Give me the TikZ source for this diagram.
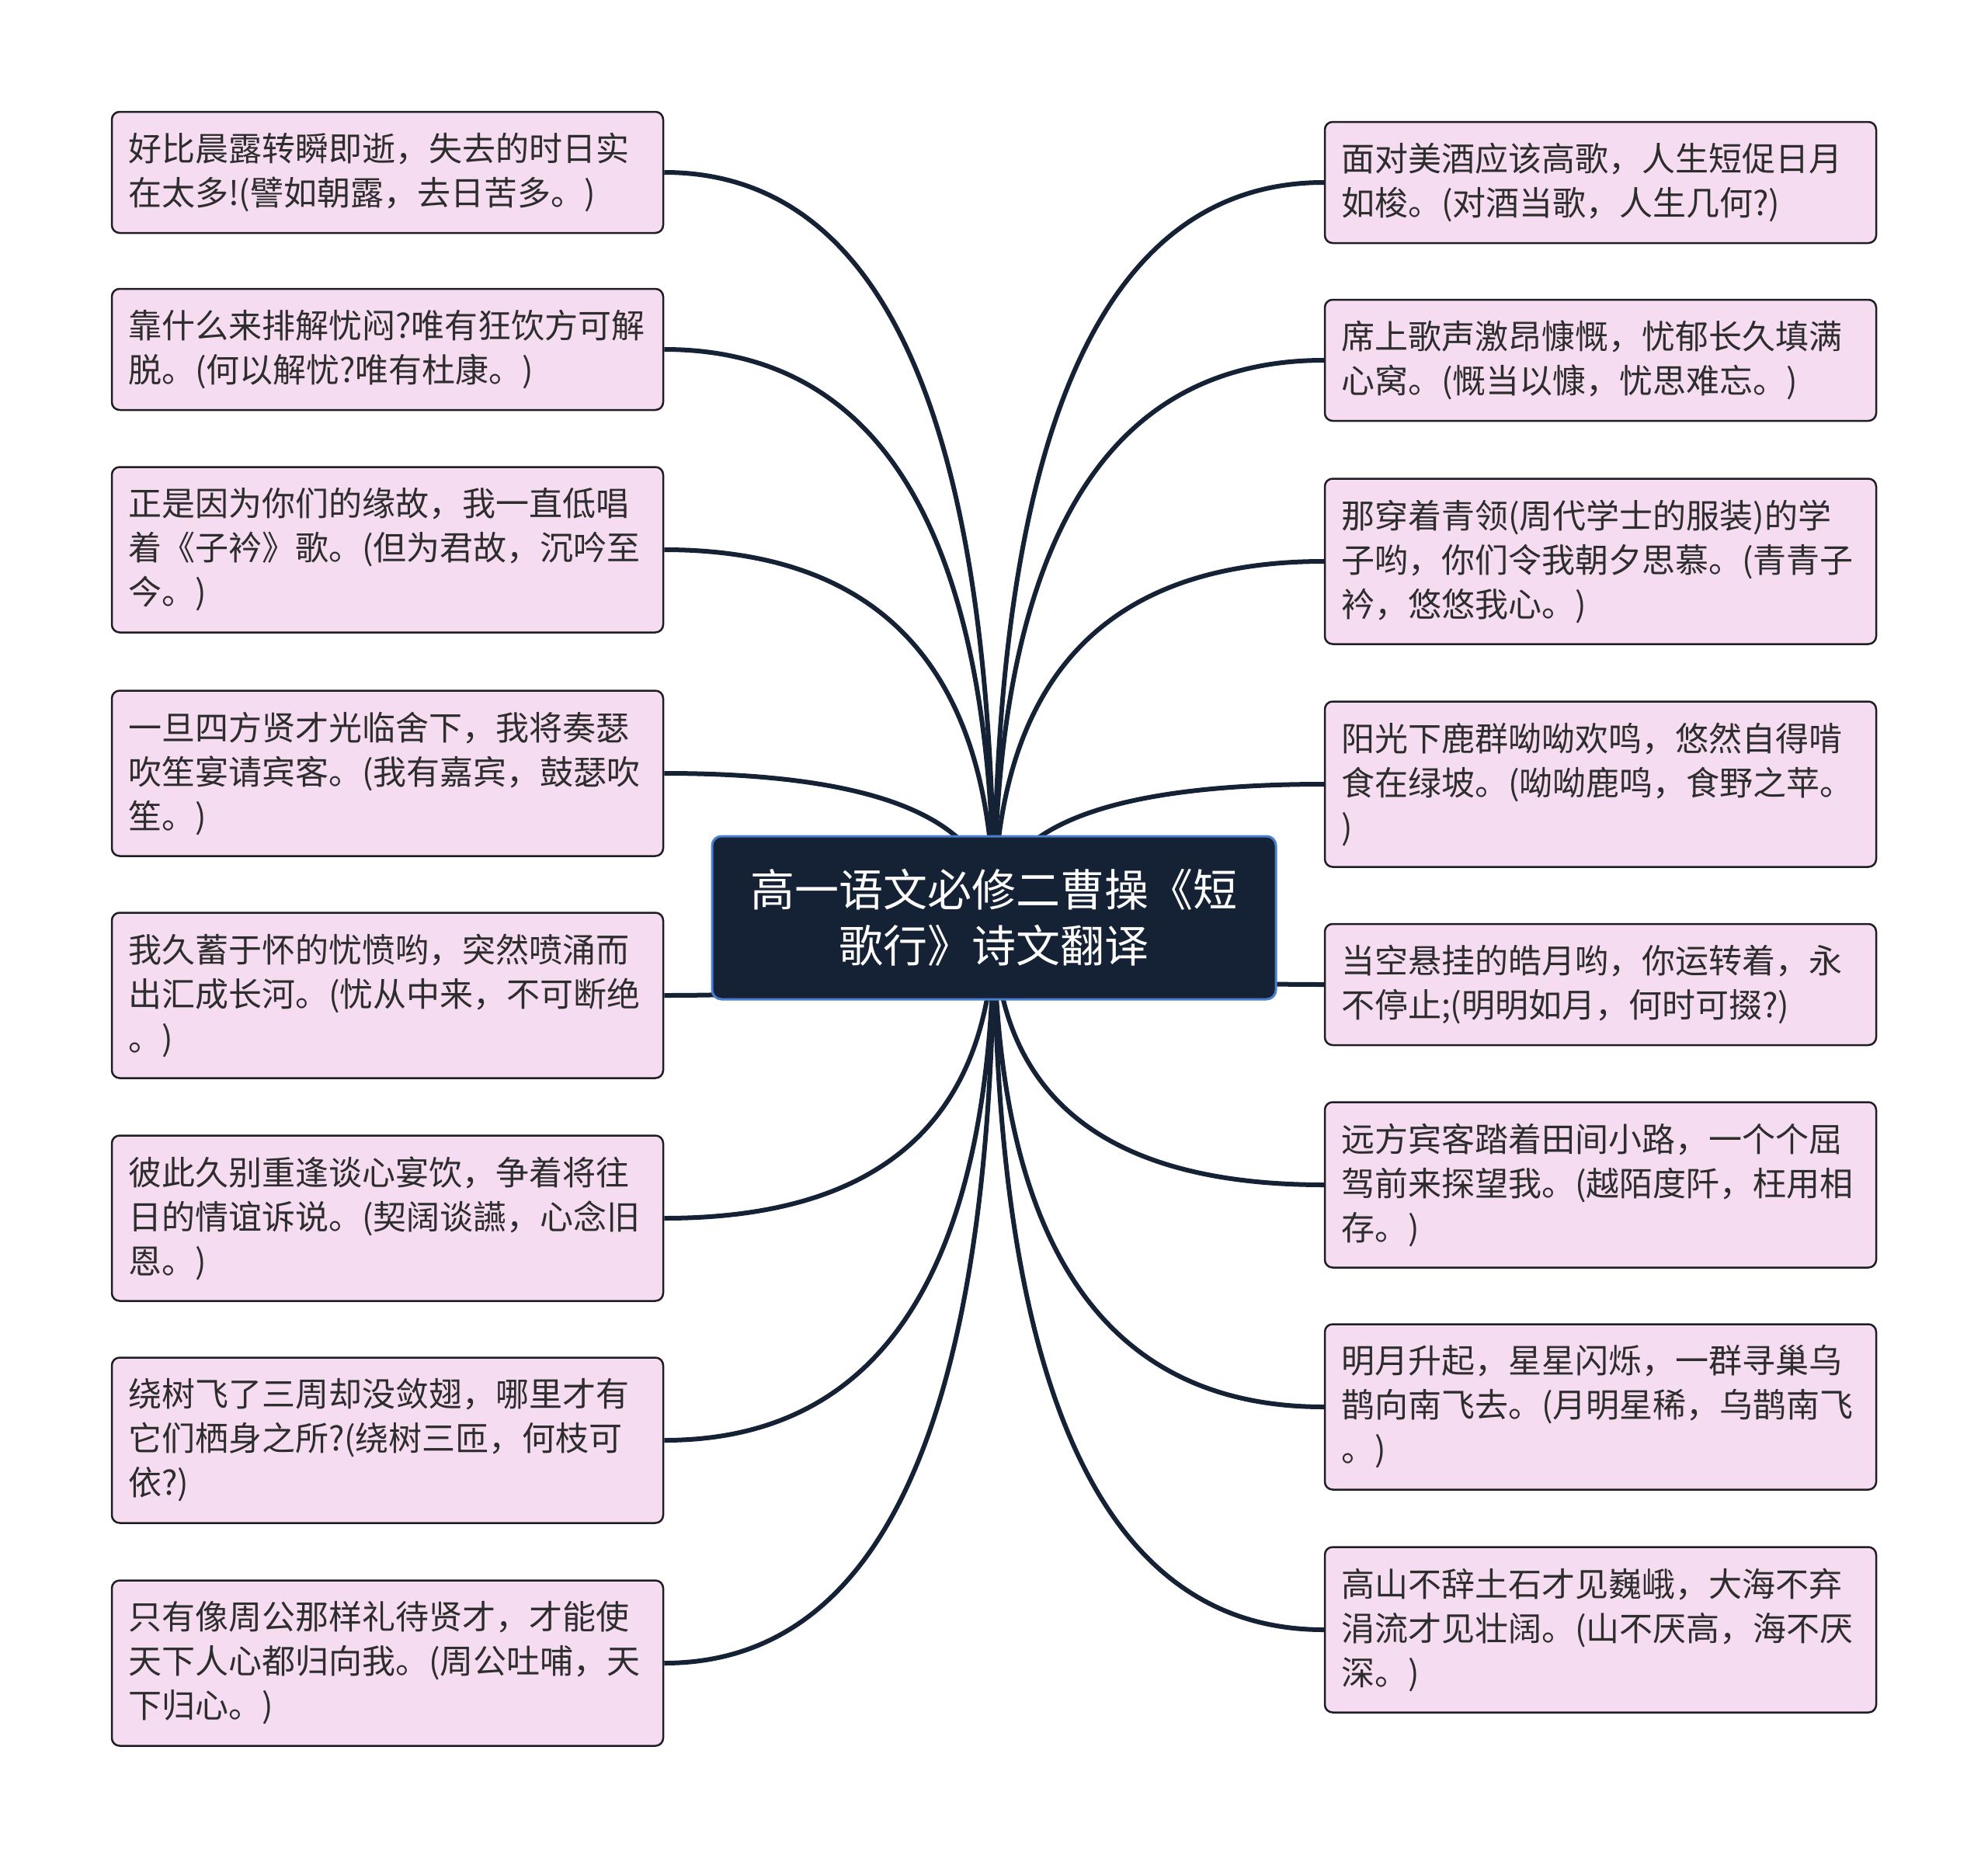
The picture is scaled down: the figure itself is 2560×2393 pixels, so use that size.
\documentclass[tikz,border=0pt]{standalone}
\usepackage{fontspec}
\setmainfont{Noto Sans CJK SC}
\usetikzlibrary{calc}
\definecolor{leaffill}{RGB}{245,220,240}
\definecolor{leafline}{RGB}{30,30,36}
\definecolor{leaftext}{RGB}{45,45,45}
\definecolor{rootfill}{RGB}{21,33,52}
\definecolor{rootline}{RGB}{74,127,208}
\definecolor{connline}{RGB}{21,33,52}
\pgfdeclarelayer{bg}
\pgfsetlayers{bg,main}
\begin{document}
\begin{tikzpicture}[x=1pt,y=-1pt,
  leaf/.style={draw=leafline, line width=2.5pt, fill=leaffill, rounded corners=10pt,
    minimum width=710pt, text width=668pt, inner xsep=21pt, inner ysep=0pt,
    align=left, text=leaftext, font=\fontsize{43}{57}\selectfont},
  two/.style={minimum height=156pt},
  three/.style={minimum height=213pt},
  rootbox/.style={draw=rootline, line width=3pt, fill=rootfill, rounded corners=12pt,
    minimum width=726pt, minimum height=210pt, text width=690pt, inner sep=0pt,
    align=center, text=white, font=\fontsize{57}{72}\selectfont},
  conn/.style={draw=connline, line width=6pt}]
\useasboundingbox (0,0) rectangle (2560,2393);

\node[rootbox] (root) at (1280,1182) {高一语文必修二曹操《短\\歌行》诗文翻译};

\node[leaf,two]   (L1) at (499,222)  {好比晨露转瞬即逝，失去的时日实\\在太多!(譬如朝露，去日苦多。)};
\node[leaf,two]   (L2) at (499,450)  {靠什么来排解忧闷?唯有狂饮方可解\\脱。(何以解忧?唯有杜康。)};
\node[leaf,three] (L3) at (499,708)  {正是因为你们的缘故，我一直低唱\\着《子衿》歌。(但为君故，沉吟至\\今。)};
\node[leaf,three] (L4) at (499,996)  {一旦四方贤才光临舍下，我将奏瑟\\吹笙宴请宾客。(我有嘉宾，鼓瑟吹\\笙。)};
\node[leaf,three] (L5) at (499,1282) {我久蓄于怀的忧愤哟，突然喷涌而\\出汇成长河。(忧从中来，不可断绝\\。)};
\node[leaf,three] (L6) at (499,1569) {彼此久别重逢谈心宴饮，争着将往\\日的情谊诉说。(契阔谈讌，心念旧\\恩。)};
\node[leaf,three] (L7) at (499,1855) {绕树飞了三周却没敛翅，哪里才有\\它们栖身之所?(绕树三匝，何枝可\\依?)};
\node[leaf,three] (L8) at (499,2142) {只有像周公那样礼待贤才，才能使\\天下人心都归向我。(周公吐哺，天\\下归心。)};

\node[leaf,two]   (R1) at (2061,235)  {面对美酒应该高歌，人生短促日月\\如梭。(对酒当歌，人生几何?)};
\node[leaf,two]   (R2) at (2061,464)  {席上歌声激昂慷慨，忧郁长久填满\\心窝。(慨当以慷，忧思难忘。)};
\node[leaf,three] (R3) at (2061,723)  {那穿着青领(周代学士的服装)的学\\子哟，你们令我朝夕思慕。(青青子\\衿，悠悠我心。)};
\node[leaf,three] (R4) at (2061,1010) {阳光下鹿群呦呦欢鸣，悠然自得啃\\食在绿坡。(呦呦鹿鸣，食野之苹。\\)};
\node[leaf,two]   (R5) at (2061,1268) {当空悬挂的皓月哟，你运转着，永\\不停止;(明明如月，何时可掇?)};
\node[leaf,three] (R6) at (2061,1526) {远方宾客踏着田间小路，一个个屈\\驾前来探望我。(越陌度阡，枉用相\\存。)};
\node[leaf,three] (R7) at (2061,1812) {明月升起，星星闪烁，一群寻巢乌\\鹊向南飞去。(月明星稀，乌鹊南飞\\。)};
\node[leaf,three] (R8) at (2061,2099) {高山不辞土石才见巍峨，大海不弃\\涓流才见壮阔。(山不厌高，海不厌\\深。)};

\begin{pgfonlayer}{bg}
\foreach \n/\a in {L1/east,L2/east,L3/east,L4/east,L5/east,L6/east,L7/east,L8/east,
                   R1/west,R2/west,R3/west,R4/west,R5/west,R6/west,R7/west,R8/west}{
  \draw[conn] (root.center) .. controls ($(root.center)!0.6667!(root.center|-\n.\a)$)
    and ($(\n.\a)!0.6667!(root.center|-\n.\a)$) .. (\n.\a);
}
\end{pgfonlayer}
\end{tikzpicture}
\end{document}
